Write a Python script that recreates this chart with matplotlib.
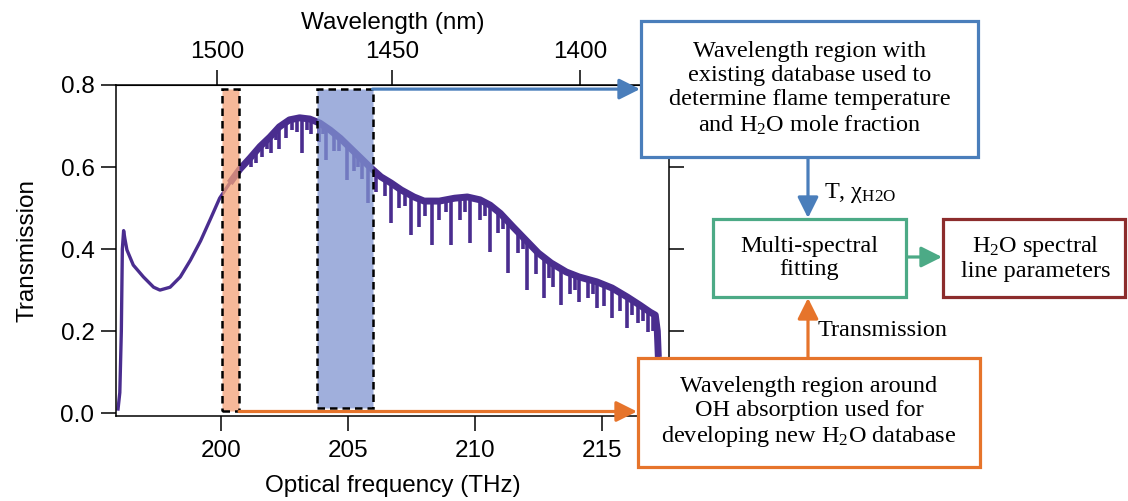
import matplotlib
matplotlib.use("Agg")
import matplotlib.pyplot as plt
from matplotlib.patches import Rectangle
import numpy as np

plt.rcParams['font.family'] = ['Liberation Sans', 'DejaVu Sans']
plt.rcParams['mathtext.fontset'] = 'custom'
plt.rcParams['mathtext.rm'] = 'Liberation Serif'
plt.rcParams['mathtext.it'] = 'Liberation Serif:italic'

# spectrum (optical frequency THz, transmission)
freq_thz = [195.95, 196.02, 196.08, 196.12, 196.17, 196.22, 196.30, 196.55, 196.95,
            197.35, 197.60, 198.00, 198.40, 198.80, 199.20, 199.60, 199.95, 200.35,
            200.75, 201.15, 201.54, 201.93, 202.30, 202.70, 203.10, 203.50, 203.90,
            204.30, 204.70, 205.10, 205.50, 205.90, 206.30, 206.70, 207.10, 207.60,
            208.00, 208.60, 209.20, 209.70, 210.20, 210.60, 211.00, 211.50, 212.00,
            212.50, 213.00, 213.60, 214.10, 214.80, 215.40, 216.00, 216.50, 216.90,
            217.10, 217.18, 217.22]
trans = [0.01, 0.05, 0.20, 0.40, 0.445, 0.425, 0.398, 0.361, 0.332,
         0.307, 0.300, 0.307, 0.332, 0.373, 0.420, 0.475, 0.524, 0.561,
         0.595, 0.622, 0.650, 0.673, 0.698, 0.715, 0.720, 0.717, 0.707,
         0.690, 0.670, 0.646, 0.622, 0.598, 0.576, 0.561, 0.544, 0.527,
         0.517, 0.517, 0.524, 0.527, 0.520, 0.507, 0.487, 0.454, 0.422,
         0.390, 0.366, 0.344, 0.332, 0.320, 0.305, 0.283, 0.263, 0.246,
         0.239, 0.20, 0.137]

# absorption dips: position, level above the dip, bottom of the dip
dip_freq = [201.20, 201.40, 201.60, 201.80, 201.97, 202.15, 202.30, 202.55, 202.80,
            203.00, 203.20, 203.40, 203.55, 203.85, 204.00, 204.15, 204.45, 204.65,
            204.95, 205.25, 205.40, 205.55, 205.80, 206.10, 206.45, 206.70, 207.00,
            207.25, 207.50, 207.80, 208.05, 208.30, 208.60, 208.85, 209.05, 209.40,
            209.60, 209.80, 210.20, 210.40, 210.60, 210.90, 211.10, 211.30, 211.70,
            211.90, 212.05, 212.40, 212.70, 212.90, 213.07, 213.40, 213.75, 213.95,
            214.10, 214.45, 214.65, 214.80, 215.10, 215.40, 215.70, 216.00, 216.20,
            216.40, 216.60, 216.80, 217.00]
dip_top = [0.62, 0.635, 0.65, 0.665, 0.675, 0.69, 0.70, 0.71, 0.715,
           0.72, 0.72, 0.72, 0.717, 0.71, 0.705, 0.70, 0.685, 0.675,
           0.66, 0.64, 0.63, 0.62, 0.61, 0.59, 0.57, 0.565, 0.55,
           0.54, 0.535, 0.525, 0.52, 0.52, 0.52, 0.522, 0.525, 0.525,
           0.527, 0.527, 0.52, 0.515, 0.507, 0.49, 0.48, 0.47, 0.44,
           0.43, 0.42, 0.395, 0.38, 0.372, 0.366, 0.355, 0.34, 0.336,
           0.332, 0.325, 0.322, 0.32, 0.31, 0.305, 0.295, 0.283, 0.275,
           0.265, 0.258, 0.25, 0.24]
dip_bottom = [0.60, 0.61, 0.625, 0.645, 0.635, 0.665, 0.645, 0.67, 0.69,
              0.685, 0.635, 0.69, 0.68, 0.66, 0.68, 0.617, 0.64, 0.64,
              0.568, 0.59, 0.60, 0.57, 0.512, 0.54, 0.53, 0.463, 0.50,
              0.505, 0.434, 0.454, 0.48, 0.41, 0.47, 0.49, 0.41, 0.47,
              0.49, 0.415, 0.47, 0.48, 0.393, 0.44, 0.45, 0.341, 0.39,
              0.40, 0.30, 0.34, 0.28, 0.33, 0.307, 0.263, 0.29, 0.30,
              0.27, 0.28, 0.29, 0.256, 0.26, 0.232, 0.25, 0.207, 0.24,
              0.22, 0.225, 0.198, 0.20]

oh_band = [200.03, 200.72]
db_band = [203.77, 205.97]
freq_ticks = [200, 205, 210, 215]
trans_ticks = [0.0, 0.2, 0.4, 0.6, 0.8]
wl_ticks = [1500, 1450, 1400]

purple = '#4a2d8f'
blue = '#4a7ebb'
green = '#4caa86'
red = '#8c2c2c'
orange = '#e6742b'

fig = plt.figure(figsize=(11.28, 5.01), dpi=100)
ax = fig.add_axes([116 / 1128, 1 - 416 / 501, 553 / 1128, 331 / 501])

f = np.array(freq_thz)
t = np.array(trans)
ax.plot(f, t, color=purple, lw=2.4, zorder=2)
right = f >= 200.3
ax.plot(f[right], t[right], color=purple, lw=5.0, solid_capstyle='butt', zorder=2)
ax.vlines(dip_freq, dip_bottom, dip_top, color=purple, lw=2.6, zorder=2)

# shaded regions with dashed outline
ax.add_patch(Rectangle((oh_band[0], 0.004), oh_band[1] - oh_band[0], 0.786,
                       facecolor=(0.957, 0.63, 0.467, 0.75), edgecolor='black',
                       lw=1.8, ls=(0, (3, 2)), zorder=3))
ax.add_patch(Rectangle((db_band[0], 0.012), db_band[1] - db_band[0], 0.778,
                       facecolor=(0.50, 0.58, 0.82, 0.75), edgecolor='black',
                       lw=1.8, ls=(0, (3, 2)), zorder=3))

ax.set_xlim(195.87, 217.64)
ax.set_ylim(-0.007, 0.8)
ax.set_xticks(freq_ticks)
ax.set_yticks(trans_ticks)
ax.set_yticklabels(['%.1f' % v for v in trans_ticks])
ax.tick_params(axis='both', direction='out', length=10.5, width=1.1, labelsize=17.5)
ax.tick_params(axis='x', pad=7)
ax.tick_params(axis='y', right=True, labelright=False, pad=5)
for s in ax.spines.values():
    s.set_linewidth(1.1)
ax.set_xlabel('Optical frequency (THz)', fontsize=17.5, labelpad=9)
ax.set_ylabel('Transmission', fontsize=17.5, labelpad=16)

sec = ax.secondary_xaxis('top', functions=(lambda x: 299792.458 / x,
                                           lambda x: 299792.458 / x))
sec.set_xticks(wl_ticks)
sec.tick_params(direction='out', length=10.5, width=1.1, labelsize=17.5, pad=5)
sec.set_xlabel('Wavelength (nm)', fontsize=17.5, labelpad=9)

# flow diagram drawn in pixel coordinates of the figure
ov = fig.add_axes([0, 0, 1, 1], zorder=5)
ov.set_xlim(0, 1128)
ov.set_ylim(501, 0)
ov.axis('off')
ov.patch.set_alpha(0)

serif = ['Liberation Serif', 'DejaVu Serif']
fs = 17.5

def box(x0, y0, x1, y1, color, text, cx=None):
    ov.add_patch(Rectangle((x0, y0), x1 - x0, y1 - y0, facecolor='white',
                           edgecolor=color, lw=2.3, zorder=5))
    if cx is None:
        cx = (x0 + x1) / 2
    ov.text(cx, (y0 + y1) / 2, text, ha='center', va='center', family=serif,
            fontsize=fs, linespacing=1.18, zorder=6)

box(641, 21, 978, 157, blue,
    'Wavelength region with\nexisting database used to\n'
    'determine flame temperature\nand H$_2$O mole fraction')
box(713, 219, 906, 297, green, 'Multi-spectral\nfitting')
box(943, 219, 1125, 297, red, 'H$_2$O spectral\nline parameters', cx=1036)
box(638, 358, 980, 467, orange,
    'Wavelength region around\nOH absorption used for\ndeveloping new H$_2$O database')

def arrow(xy_to, xy_from, color, coords=None):
    ov.annotate('', xy=xy_to, xytext=xy_from,
                textcoords=coords if coords is not None else 'data',
                arrowprops=dict(arrowstyle='-|>,head_length=0.9,head_width=0.45',
                                color=color, lw=2.3, shrinkA=0, shrinkB=0,
                                mutation_scale=14),
                zorder=4)

arrow((640, 89.1), (db_band[1], 0.79), blue, ax.transData)
arrow((637, 411.5), (oh_band[1], 0.004), orange, ax.transData)
arrow((808, 218), (808, 157), blue)
arrow((942, 257), (906, 257), green)
arrow((808, 298), (808, 358), orange)

ov.text(824, 193, r'T, χ$_{\mathrm{H2O}}$', ha='left', va='center', family=serif,
        fontsize=fs, zorder=6)
ov.text(818, 331, 'Transmission', ha='left', va='center', family=serif,
        fontsize=fs, zorder=6)

fig.savefig('out.png', dpi=100)
